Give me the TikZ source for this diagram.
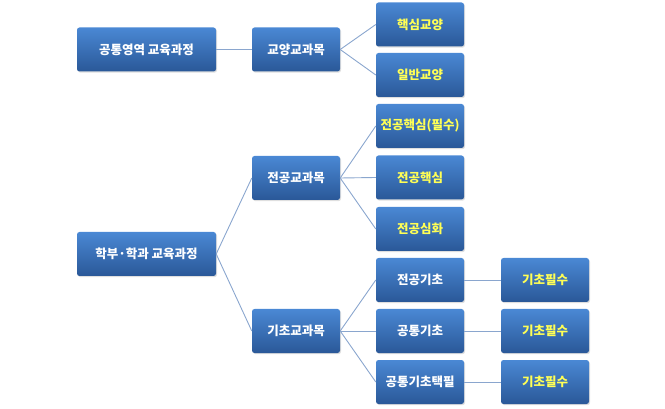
\documentclass[tikz,border=0pt]{standalone}
\usepackage{fontspec}
\newfontfamily\kr{Noto Sans CJK KR}
\usetikzlibrary{positioning,shadows}
\definecolor{boxtop}{HTML}{4A88D4}
\definecolor{boxbot}{HTML}{2A5898}
\definecolor{linkc}{HTML}{8AA6CE}
\definecolor{leaftxt}{HTML}{FFFF55}

\begin{document}
\begin{tikzpicture}[x=1pt,y=1pt,
  box/.style={rounded corners=2.5pt, top color=boxtop, bottom color=boxbot,
    minimum width=88pt, minimum height=44pt, inner sep=1pt,
    font=\kr\bfseries\fontsize{12.5}{14}\selectfont, text=white,
    drop shadow={opacity=0.25, shadow xshift=1pt, shadow yshift=-1.2pt}},
  rootbox/.style={box, minimum width=139pt},
  leafbox/.style={box, text=leaftxt},
  link/.style={draw=linkc, line width=0.9pt}]
\useasboundingbox (0,0) rectangle (665,-409);
\node[rootbox] (common) at (146.5,-49.5) {공통영역 교육과정};
\node[box] (liberal) at (296,-49.5) {교양교과목};
\node[leafbox] (coreLib) at (420,-24.5) {핵심교양};
\node[leafbox] (genLib) at (420,-75) {일반교양};
\node[rootbox] (dept) at (146.5,-254) {학부·학과 교육과정};
\node[box] (major) at (296,-178) {전공교과목};
\node[box] (basic) at (296,-331) {기초교과목};
\node[leafbox] (majCoreReq) at (420,-126) {전공핵심(필수)};
\node[leafbox] (majCore) at (420,-177.5) {전공핵심};
\node[leafbox] (majAdv) at (420,-229) {전공심화};
\node[box] (majBasic) at (420,-280) {전공기초};
\node[box] (comBasic) at (420,-331) {공통기초};
\node[box] (comBasicSel) at (420,-382) {공통기초택필};
\node[leafbox] (req1) at (545,-280) {기초필수};
\node[leafbox] (req2) at (545,-331) {기초필수};
\node[leafbox] (req3) at (545,-382) {기초필수};
% connectors
\draw[link] (common.east) -- (liberal.west);
\draw[link] (liberal.east) -- (coreLib.west);
\draw[link] (liberal.east) -- (genLib.west);
\draw[link] (dept.east) -- (major.west);
\draw[link] (dept.east) -- (basic.west);
\draw[link] (major.east) -- (majCoreReq.west);
\draw[link] (major.east) -- (majCore.west);
\draw[link] (major.east) -- (majAdv.west);
\draw[link] (basic.east) -- (majBasic.west);
\draw[link] (basic.east) -- (comBasic.west);
\draw[link] (basic.east) -- (comBasicSel.west);
\draw[link] (majBasic.east) -- (req1.west);
\draw[link] (comBasic.east) -- (req2.west);
\draw[link] (comBasicSel.east) -- (req3.west);
\end{tikzpicture}
\end{document}
